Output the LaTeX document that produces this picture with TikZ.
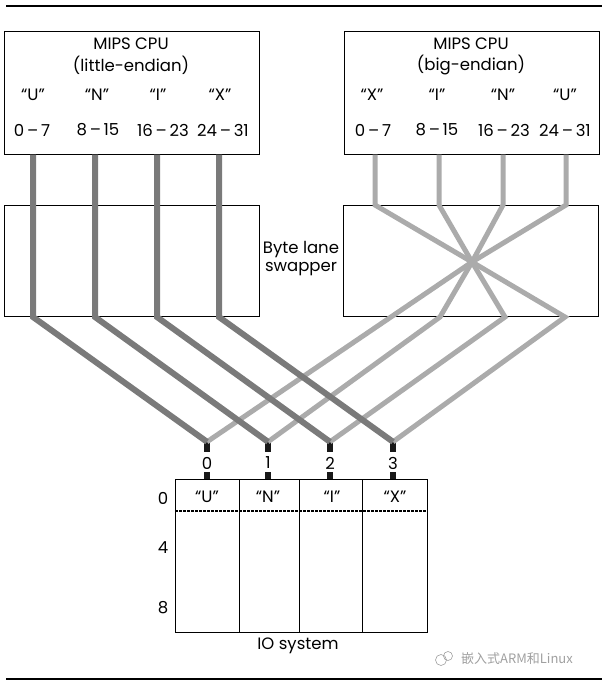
\documentclass[tikz,border=0pt]{standalone}
\usepackage{fontspec}
\setmainfont{Poppins}
\newfontfamily\cjkfont{Noto Sans CJK SC}
\usetikzlibrary{positioning}
\definecolor{laneDark}{HTML}{7A7A7A}
\definecolor{laneLight}{HTML}{ABABAB}
\definecolor{markGray}{HTML}{A0A0A0}

\begin{document}
\begin{tikzpicture}[
        x=1pt, y=-1pt,
        line cap=butt,
        unit box/.style={draw=black, line width=0.9pt, inner sep=0pt},
        box text/.style={font=\fontsize{16.5}{19}\selectfont, inner sep=0pt},
        lane dark/.style={line width=6pt, laneDark, line join=miter},
        lane light/.style={line width=5pt, laneLight, line join=miter},
        port/.style={fill=black!90, minimum width=6pt, minimum height=10pt, inner sep=0pt},
        page rule/.style={line width=1.2pt},
    ]
    \useasboundingbox (0,0) rectangle (607,685);

    % page rules
    \draw[page rule] (6,6) -- (602,6);
    \draw[page rule] (6,679) -- (602,679);

    % boxes
    \node[unit box, minimum width=255pt, minimum height=123pt] (cpuL) at (131.5,92.5) {};
    \node[unit box, minimum width=255pt, minimum height=123pt] (cpuB) at (471.5,92.5) {};
    \node[unit box, minimum width=255pt, minimum height=111pt] (swapL) at (131.5,260.5) {};
    \node[unit box, minimum width=255pt, minimum height=111pt] (swapB) at (470.5,260.5) {};
    \node[unit box, minimum width=252pt, minimum height=153pt] (io) at (301,555.5) {};

    % little-endian CPU
    \node[box text] (titleL) at (131,44) {MIPS CPU};
    \node[box text] (modeL) at (131,65) {(little-endian)};
    \node[box text] (chL0) at (33,95) {“U”};
    \node[box text] (chL1) at (97,95) {“N”};
    \node[box text] (chL2) at (158,95) {“I”};
    \node[box text] (chL3) at (220,95) {“X”};
    \node[box text] (bitL0) at (32,130) {0\,–\,7};
    \node[box text] (bitL1) at (98,130) {8\,–\,15};
    \node[box text] (bitL2) at (163,130) {16\,–\,23};
    \node[box text] (bitL3) at (223,130) {24\,–\,31};

    % big-endian CPU
    \node[box text] (titleB) at (471,44) {MIPS CPU};
    \node[box text] (modeB) at (471,65) {(big-endian)};
    \node[box text] (chB0) at (372,95) {“X”};
    \node[box text] (chB1) at (437,95) {“I”};
    \node[box text] (chB2) at (503,95) {“N”};
    \node[box text] (chB3) at (565,95) {“U”};
    \node[box text] (bitB0) at (373,130) {0\,–\,7};
    \node[box text] (bitB1) at (437,130) {8\,–\,15};
    \node[box text] (bitB2) at (504,130) {16\,–\,23};
    \node[box text] (bitB3) at (565,130) {24\,–\,31};

    \node[box text, align=center] (swapper) at (301,259) {Byte lane\\[-1pt]swapper};

    % IO ports
    \node[port] (port0) at (207,447) {};
    \node[port] (port1) at (268,447) {};
    \node[port] (port2) at (330,447) {};
    \node[port] (port3) at (393,447) {};
    \node[box text] (num0) at (207,463) {0};
    \node[box text] (num1) at (268,463) {1};
    \node[box text] (num2) at (330,463) {2};
    \node[box text] (num3) at (393,463) {3};
    \node[port, minimum height=7pt] (stub0) at (207,475.5) {};
    \node[port, minimum height=7pt] (stub1) at (268,475.5) {};
    \node[port, minimum height=7pt] (stub2) at (330,475.5) {};
    \node[port, minimum height=7pt] (stub3) at (393,475.5) {};

    % lane pins and bends
    \coordinate (pinL0) at (33,154.5);
    \coordinate (pinL1) at (95,154.5);
    \coordinate (pinL2) at (157,154.5);
    \coordinate (pinL3) at (219,154.5);
    \coordinate (pinB0) at (375,154.5);
    \coordinate (pinB1) at (439,154.5);
    \coordinate (pinB2) at (503,154.5);
    \coordinate (pinB3) at (566,154.5);
    \coordinate (cross) at (472,262);

    % big-endian lanes, swapped
    \draw[lane light] (pinB0) -- (375,205) -- (cross) -- (565,317) -- (port3.north);
    \draw[lane light] (pinB1) -- (439,205) -- (cross) -- (505,317) -- (port2.north);
    \draw[lane light] (pinB2) -- (503,205) -- (cross) -- (440,317) -- (port1.north);
    \draw[lane light] (pinB3) -- (566,205) -- (cross) -- (port0.north);

    % little-endian lanes, straight through
    \draw[lane dark] (pinL0) -- (33,317) -- (port0.north);
    \draw[lane dark] (pinL1) -- (95,317) -- (port1.north);
    \draw[lane dark] (pinL2) -- (157,317) -- (port2.north);
    \draw[lane dark] (pinL3) -- (219,317) -- (port3.north);

    % IO system memory
    \draw[line width=0.9pt] (239,479) -- (239,632);
    \draw[line width=0.9pt] (299,479) -- (299,632);
    \draw[line width=0.9pt] (362,479) -- (362,632);
    \draw[line width=1.4pt, dash pattern=on 2.6pt off 1.4pt] (175,511) -- (427,511);
    \node[box text] (cell0) at (207,497) {“U”};
    \node[box text] (cell1) at (268,497) {“N”};
    \node[box text] (cell2) at (332,497) {“I”};
    \node[box text] (cell3) at (395,497) {“X”};
    \node[box text] (addr0) at (163,498) {0};
    \node[box text] (addr4) at (163,548) {4};
    \node[box text] (addr8) at (163,608) {8};
    \node[box text] (iolabel) at (298,646) {IO system};

    % watermark
    \draw[markGray, line width=0.6pt] (441,660) circle[radius=5.5];
    \draw[markGray, line width=0.6pt] (448,656) circle[radius=4.5];
    \node[font=\cjkfont\fontsize{13}{15}\selectfont, text=markGray, anchor=west, inner sep=0pt] (mark) at (461,659) {嵌入式ARM和Linux};
\end{tikzpicture}
\end{document}
